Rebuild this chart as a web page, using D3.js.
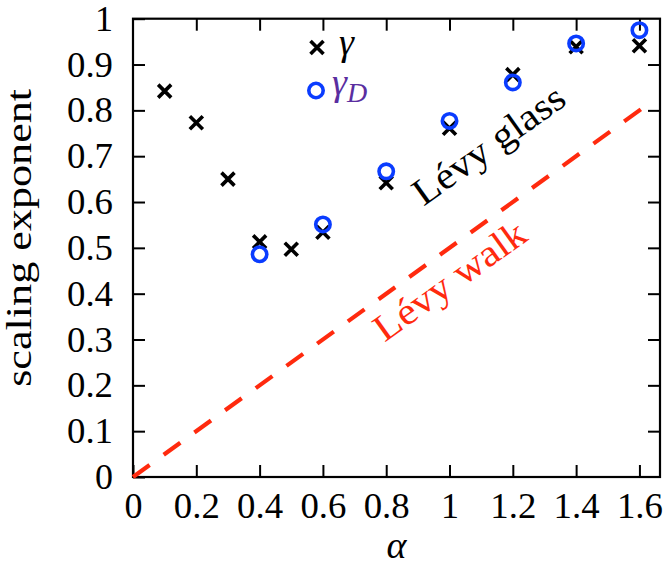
<!DOCTYPE html>
<html>
<head>
<meta charset="utf-8">
<script src="https://cdn.jsdelivr.net/npm/d3@7"></script>
<style>
  html, body { margin: 0; padding: 0; background: #fff; }
  svg { display: block; }
  text { font-family: "Liberation Serif", "Times New Roman", serif; }
</style>
</head>
<body>
<svg id="chart" width="664" height="568"></svg>
<script>
// ---- data ----
const alphaGamma = [0.1, 0.2, 0.3, 0.4, 0.5, 0.6, 0.8, 1.0, 1.2, 1.4, 1.6];
const gammaValues = [0.842, 0.773, 0.650, 0.513, 0.497, 0.534, 0.642, 0.761, 0.878, 0.939, 0.941];
const alphaGammaD = [0.4, 0.6, 0.8, 1.0, 1.2, 1.4, 1.6];
const gammaDValues = [0.486, 0.551, 0.667, 0.777, 0.861, 0.946, 0.975];
const levyWalkX = [0, 1.63];
const levyWalkY = [0, 0.815];
const xTicks = [0, 0.2, 0.4, 0.6, 0.8, 1, 1.2, 1.4, 1.6];
const yTicks = [0, 0.1, 0.2, 0.3, 0.4, 0.5, 0.6, 0.7, 0.8, 0.9, 1];

const svg = d3.select("#chart");
const pL = 133, pR = 660, pT = 18.7, pB = 477;
const x = d3.scaleLinear().domain([0, 1.665]).range([pL, pR]);
const y = d3.scaleLinear().domain([0, 1]).range([pB, pT]);

const fmt = d => String(d);
const tickLen = 12;
const fs = 36;

// axes (inward ticks)
const axB = d3.axisBottom(x).tickValues(xTicks).tickSize(-tickLen).tickFormat(fmt).tickPadding(15);
const axT = d3.axisTop(x).tickValues(xTicks.filter(d => d > 0)).tickSize(-tickLen).tickFormat("");
const axL = d3.axisLeft(y).tickValues(yTicks).tickSize(-tickLen).tickFormat(fmt).tickPadding(20);
const axR = d3.axisRight(y).tickValues(yTicks.filter(d => d > 0 && d < 1)).tickSize(-tickLen).tickFormat("");

function style(g) {
  g.select(".domain").remove();
  g.selectAll(".tick line").attr("stroke", "#000").attr("stroke-width", 2);
  g.selectAll(".tick text").attr("fill", "#000").style("font-size", fs + "px")
    .style("font-family", '"Liberation Serif", serif')
    .each(function () {
      const t = d3.select(this);
      if (t.text().length === 3) t.attr("textLength", 46).attr("lengthAdjust", "spacingAndGlyphs");
    });
}
svg.append("g").attr("transform", `translate(0,${pB})`).call(axB).call(style);
svg.append("g").attr("transform", `translate(0,${pT})`).call(axT).call(style);
svg.append("g").attr("transform", `translate(${pL},0)`).call(axL).call(style);
svg.append("g").attr("transform", `translate(${pR},0)`).call(axR).call(style);

// frame
svg.append("rect").attr("x", pL).attr("y", pT).attr("width", pR - pL).attr("height", pB - pT)
  .attr("fill", "none").attr("stroke", "#000").attr("stroke-width", 2.2);

// Lévy walk dashed line
const line = d3.line().x(d => x(d[0])).y(d => y(d[1]));
svg.append("path").datum(levyWalkX.map((d, i) => [d, levyWalkY[i]]))
  .attr("d", line).attr("fill", "none").attr("stroke", "#ff2a0e")
  .attr("stroke-width", 4.2).attr("stroke-dasharray", "20.5,17.4");

// crosses (gamma)
const cr = 6.5;
svg.append("g").selectAll("path").data(alphaGamma.map((d, i) => [d, gammaValues[i]]))
  .join("path")
  .attr("d", d => {
    const cx = x(d[0]), cy = y(d[1]);
    return `M${cx - cr},${cy - cr}L${cx + cr},${cy + cr}M${cx - cr},${cy + cr}L${cx + cr},${cy - cr}`;
  })
  .attr("stroke", "#000").attr("stroke-width", 3.6).attr("fill", "none");

// circles (gamma_D)
svg.append("g").selectAll("circle").data(alphaGammaD.map((d, i) => [d, gammaDValues[i]]))
  .join("circle")
  .attr("cx", d => x(d[0])).attr("cy", d => y(d[1])).attr("r", 7.2)
  .attr("fill", "none").attr("stroke", "#0a3cff").attr("stroke-width", 3.6);

// legend
const lg = svg.append("g");
const lx = 317, ly1 = 47.5, ly2 = 90.5;
lg.append("path")
  .attr("d", `M${lx - cr},${ly1 - cr}L${lx + cr},${ly1 + cr}M${lx - cr},${ly1 + cr}L${lx + cr},${ly1 - cr}`)
  .attr("stroke", "#000").attr("stroke-width", 3.6);
lg.append("text").attr("x", 339).attr("y", 55).style("font-size", "38px").style("font-style", "italic")
  .attr("fill", "#000").text("γ");
lg.append("circle").attr("cx", lx - 1).attr("cy", ly2).attr("r", 7.2)
  .attr("fill", "none").attr("stroke", "#0a3cff").attr("stroke-width", 3.6);
const gd = lg.append("text").attr("x", 332).attr("y", 95).style("font-size", "38px").style("font-style", "italic")
  .attr("fill", "#5a2ea0");
gd.append("tspan").text("γ");
gd.append("tspan").attr("dy", 7).style("font-size", "28px").text("D");

// rotated labels
const ang = -35.5;
svg.append("text").attr("transform", `translate(496,155) rotate(${ang})`)
  .attr("text-anchor", "middle").style("font-size", "38px").attr("fill", "#000")
  .attr("textLength", 178).attr("lengthAdjust", "spacingAndGlyphs").text("Lévy glass");
svg.append("text").attr("transform", `translate(457,291) rotate(${ang})`)
  .attr("text-anchor", "middle").style("font-size", "38px").attr("fill", "#ff2a0e")
  .attr("textLength", 178).attr("lengthAdjust", "spacingAndGlyphs").text("Lévy walk");

// axis titles
svg.append("text").attr("transform", `translate(31,${(pT + pB) / 2 - 10}) rotate(-90)`)
  .attr("text-anchor", "middle").style("font-size", "36px").attr("fill", "#000")
  .attr("textLength", 298).attr("lengthAdjust", "spacingAndGlyphs").text("scaling exponent");
svg.append("text").attr("x", (pL + pR) / 2).attr("y", 558).attr("text-anchor", "middle")
  .style("font-size", "38px").style("font-style", "italic").attr("fill", "#000").text("α");
</script>
</body>
</html>
